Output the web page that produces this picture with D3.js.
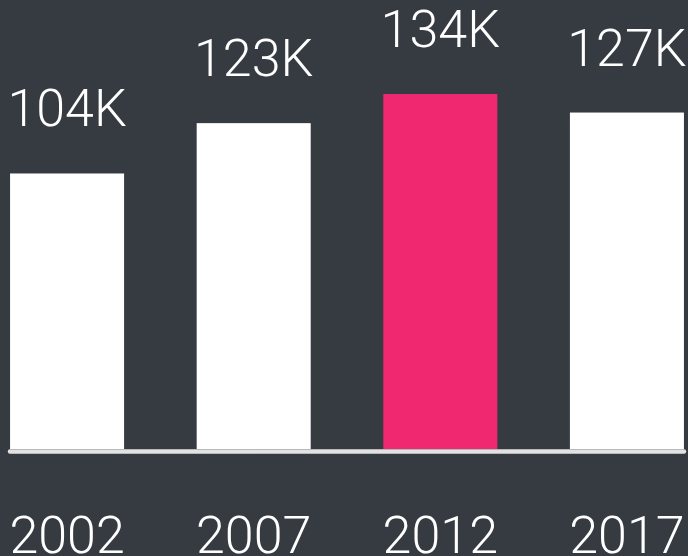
<!DOCTYPE html>
<html><head><meta charset="utf-8">
<script src="https://cdn.jsdelivr.net/npm/d3@7"></script>
<style>html,body{margin:0;padding:0;background:#363b42;}svg{display:block;}</style>
</head><body>
<svg id="c" width="688" height="556"></svg>
<script>
const years = ["2002","2007","2012","2017"];
const values = [104, 123, 134, 127];
const valueLabels = ["104K","123K","134K","127K"];
const highlight = ["2012"];

const svg = d3.select("#c");
const W = 688, H = 556;
svg.append("rect").attr("width",W).attr("height",H).attr("fill","#363b42");
const x = d3.scaleBand().domain(years).range([-3, 697]).paddingInner(0.389).paddingOuter(0.07);
const y = d3.scaleLinear().domain([0, 134]).range([449, 94]);
const font = "Roboto, 'Helvetica Neue', Lato, sans-serif";

svg.selectAll(".bar").data(years).enter().append("rect")
  .attr("x", d => x(d)).attr("width", x.bandwidth())
  .attr("y", (d,i) => y(values[i])).attr("height", (d,i) => y(0) - y(values[i]))
  .attr("fill", d => highlight.includes(d) ? "#f0286f" : "#ffffff");

svg.append("line").attr("x1", 10).attr("x2", 684).attr("y1", 451.5).attr("y2", 451.5)
  .attr("stroke","#e2e2e2").attr("stroke-width",4.5).attr("stroke-linecap","round");

svg.selectAll(".vl").data(years).enter().append("text")
  .attr("x", d => x(d) + x.bandwidth()/2).attr("y", (d,i) => y(values[i]) - 47)
  .attr("text-anchor","middle").attr("fill","#ffffff")
  .style("font-family", font).style("font-weight", 300).style("font-size","52px")
  .text((d,i) => valueLabels[i]);

svg.selectAll(".yl").data(years).enter().append("text")
  .attr("x", d => x(d) + x.bandwidth()/2).attr("y", 553)
  .attr("text-anchor","middle").attr("fill","#ffffff")
  .style("font-family", font).style("font-weight", 300).style("font-size","52px")
  .text(d => d);
</script>
</body></html>
